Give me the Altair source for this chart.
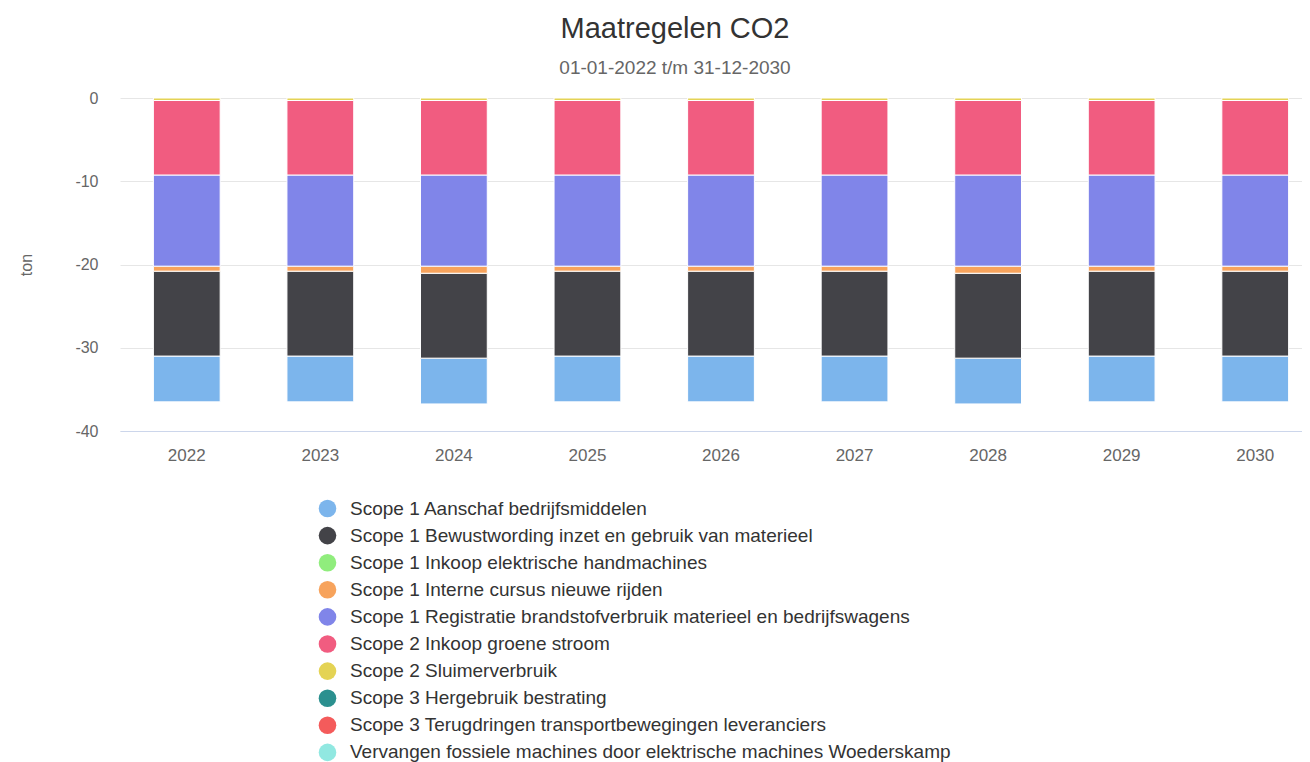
import altair as alt
import pandas as pd

FONT = "Liberation Sans"

years = ["2022", "2023", "2024", "2025", "2026", "2027", "2028", "2029", "2030"]

series = [
    "Scope 1 Aanschaf bedrijfsmiddelen",
    "Scope 1 Bewustwording inzet en gebruik van materieel",
    "Scope 1 Inkoop elektrische handmachines",
    "Scope 1 Interne cursus nieuwe rijden",
    "Scope 1 Registratie brandstofverbruik materieel en bedrijfswagens",
    "Scope 2 Inkoop groene stroom",
    "Scope 2 Sluimerverbruik",
    "Scope 3 Hergebruik bestrating",
    "Scope 3 Terugdringen transportbewegingen leveranciers",
    "Vervangen fossiele machines door elektrische machines Woederskamp",
]

colors = ["#7cb5ec", "#434348", "#90ed7d", "#f7a35c", "#8085e9",
          "#f15c80", "#e4d354", "#2b908f", "#f45b5b", "#91e8e1"]

aanschaf = [-5.5, -5.5, -5.5, -5.5, -5.5, -5.5, -5.5, -5.5, -5.5]
bewustwording = [-10.2, -10.2, -10.2, -10.2, -10.2, -10.2, -10.2, -10.2, -10.2]
inkoop_handmachines = [0, 0, 0, 0, 0, 0, 0, 0, 0]
interne_cursus = [-0.6, -0.6, -0.85, -0.6, -0.6, -0.6, -0.85, -0.6, -0.6]
registratie = [-10.95, -10.95, -10.95, -10.95, -10.95, -10.95, -10.95, -10.95, -10.95]
groene_stroom = [-8.95, -8.95, -8.95, -8.95, -8.95, -8.95, -8.95, -8.95, -8.95]
sluimerverbruik = [-0.3, -0.3, -0.3, -0.3, -0.3, -0.3, -0.3, -0.3, -0.3]
hergebruik = [0, 0, 0, 0, 0, 0, 0, 0, 0]
terugdringen = [0, 0, 0, 0, 0, 0, 0, 0, 0]
vervangen = [0, 0, 0, 0, 0, 0, 0, 0, 0]

values = [aanschaf, bewustwording, inkoop_handmachines, interne_cursus, registratie,
          groene_stroom, sluimerverbruik, hergebruik, terugdringen, vervangen]

rows = []
for i, (name, vals) in enumerate(zip(series, values)):
    for y, v in zip(years, vals):
        if v != 0:
            rows.append({"year": y, "series": name, "idx": i, "value": v})
df = pd.DataFrame(rows)

chart = alt.Chart(df).mark_bar(stroke="white", strokeWidth=1).encode(
    x=alt.X(
        "year:N", sort=years,
        scale=alt.Scale(range=[0, 1202], paddingInner=0.5, paddingOuter=0.25),
        axis=alt.Axis(title=None, labelAngle=0, labelFontSize=17, labelColor="#666666",
                      labelFont=FONT, ticks=False, tickSize=0, domainColor="#ccd6eb",
                      domainWidth=1, labelPadding=16, grid=False),
    ),
    y=alt.Y(
        "value:Q",
        scale=alt.Scale(domain=[-40, 0], nice=False, zero=True),
        axis=alt.Axis(title="ton", values=[-40, -30, -20, -10, 0], labelExpr="'' + datum.value",
                      labelFontSize=16, labelColor="#666666", labelFont=FONT,
                      ticks=False, tickSize=0, domain=False, labelPadding=22,
                      gridColor="#e6e6e6", gridWidth=1,
                      titleFont=FONT, titleFontSize=16, titleFontWeight="normal",
                      titleColor="#666666", titleX=-94, titleY=166.5, titleAngle=-90,
                      titleAlign="center", titleBaseline="middle"),
    ),
    color=alt.Color(
        "series:N",
        scale=alt.Scale(domain=series, range=colors),
        legend=alt.Legend(title=None, orient="none", legendX=198, legendY=401,
                          direction="vertical", columns=1, symbolType="circle",
                          symbolSize=310, symbolStrokeWidth=0, symbolOpacity=1,
                          labelFont=FONT, labelFontSize=19, labelColor="#333333",
                          labelOffset=13, rowPadding=7.1, labelLimit=0, padding=0),
    ),
    order=alt.Order("idx:Q", sort="descending"),
).properties(
    width=1182,
    height=333,
    title=alt.TitleParams(
        text="Maatregelen CO2",
        subtitle="01-01-2022 t/m 31-12-2030",
        font=FONT, fontSize=29, fontWeight="normal", color="#333333",
        subtitleFont=FONT, subtitleFontSize=19, subtitleColor="#666666",
        subtitlePadding=15, anchor="middle", frame="group", dx=-36, offset=12,
    ),
    padding={"left": 112, "top": 90, "right": 0, "bottom": 331},
    autosize=alt.AutoSizeParams(type="none"),
).configure_view(stroke=None)

chart.save("out.html", embed_options={"renderer": "svg", "actions": False})
